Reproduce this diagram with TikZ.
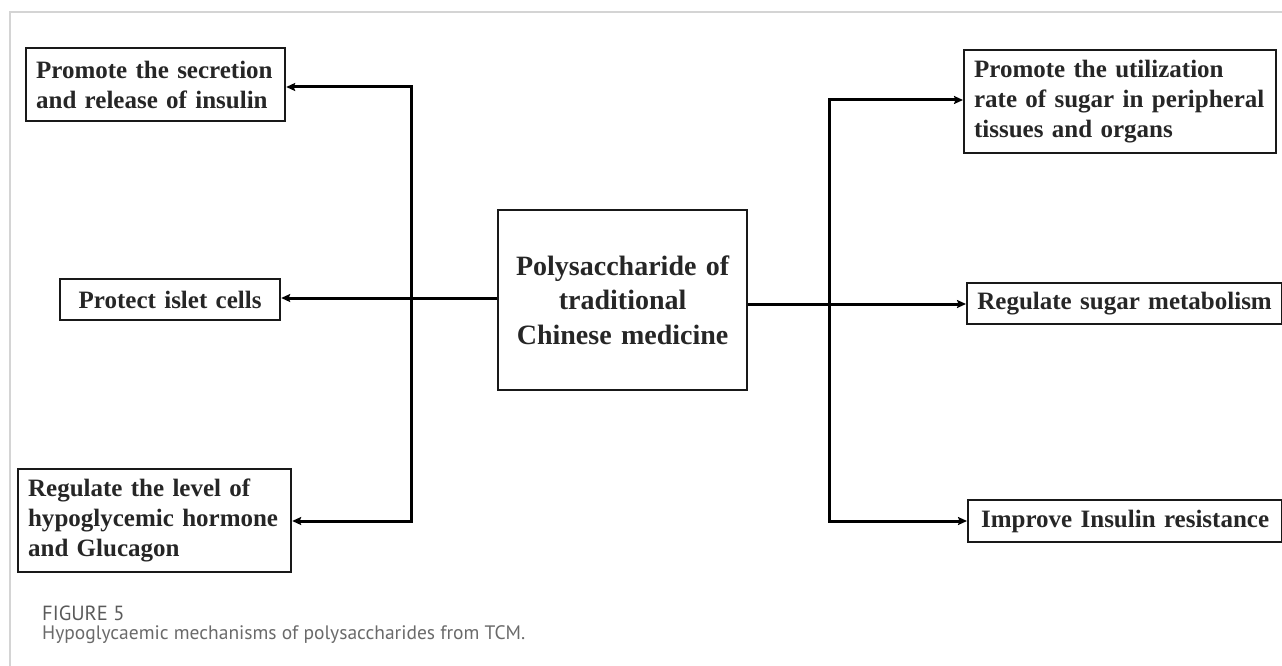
\documentclass[tikz,border=0pt]{standalone}
\usepackage{fontspec}
\setmainfont{Liberation Serif}
\newfontfamily\capfont{PT Sans}
\usetikzlibrary{arrows.meta}
\definecolor{txt}{HTML}{262626}
\definecolor{frame}{HTML}{D4D4D4}
\definecolor{capgray}{HTML}{6A6A6A}
\definecolor{figgray}{HTML}{5A5A5A}
\tikzset{
  box/.style={draw=black!90, line width=2.2pt, rectangle, anchor=north west,
    inner xsep=10pt, inner ysep=2pt, text=txt,
    font=\fontsize{25}{30}\selectfont\bfseries},
  conn/.style={line width=3pt, black},
  tip/.style={-{Stealth[length=9pt,width=8pt,inset=1.5pt]}},
  tips/.style={{Stealth[length=9pt,width=8pt,inset=1.5pt]}-{Stealth[length=9pt,width=8pt,inset=1.5pt]}}
}
\begin{document}
\begin{tikzpicture}[x=1pt,y=-1pt]
\useasboundingbox (0,0) rectangle (1282,666);
% frame lines
\draw[frame, line width=1.5pt] (10,666) -- (10,12) -- (1282,12);

% left boxes
\node[box, text width=239pt, minimum height=73pt, align=left] (b1) at (25,47)
  {Promote the secretion\\and release of insulin};
\node[box, text width=200pt, minimum height=41pt, align=center] (b2) at (59,278)
  {Protect islet cells};
\node[box, text width=253pt, minimum height=103pt, align=left] (b3) at (17,468)
  {Regulate the level of\\hypoglycemic hormone\\and Glucagon};

% centre
\node[box, font=\fontsize{28}{34.5}\selectfont\bfseries, text width=229pt,
  minimum height=180pt, align=center] (c) at (497,209)
  {Polysaccharide of\\traditional\\Chinese medicine};

% right boxes
\node[box, text width=292pt, minimum height=103pt, align=left] (b4) at (963,49)
  {Promote the utilization\\rate of sugar in peripheral\\tissues and organs};
\node[box, text width=295pt, minimum height=41pt, align=center] (b5) at (966,282)
  {Regulate sugar metabolism};
\node[box, text width=294pt, minimum height=42pt, align=center] (b6) at (967,499)
  {Improve Insulin resistance};

% connector coordinates
\coordinate (L1) at (411,87);
\coordinate (L2) at (411,298);
\coordinate (L3) at (411,521);
\coordinate (R1) at (829,100);
\coordinate (R2) at (829,304);
\coordinate (R3) at (829,521);

% left connectors
\draw[conn, tips] (b1.east |- L1) -- (L1) -- (L3) -- (b3.east |- L3);
\draw[conn, tip] (c.west |- L2) -- (b2.east |- L2);

% right connectors
\draw[conn, tips] (b4.west |- R1) -- (R1) -- (R3) -- (b6.west |- R3);
\draw[conn, tip] (c.east |- R2) -- (b5.west |- R2);

% caption
\node[anchor=base west, inner sep=0pt, text=figgray, font=\capfont\fontsize{20.5}{24}\selectfont] (fig) at (42,620) {FIGURE 5};
\node[anchor=base west, inner sep=0pt, text=capgray, font=\capfont\fontsize{19.5}{23}\selectfont] (cap) at (42,639) {Hypoglycaemic mechanisms of polysaccharides from TCM.};
\end{tikzpicture}
\end{document}
